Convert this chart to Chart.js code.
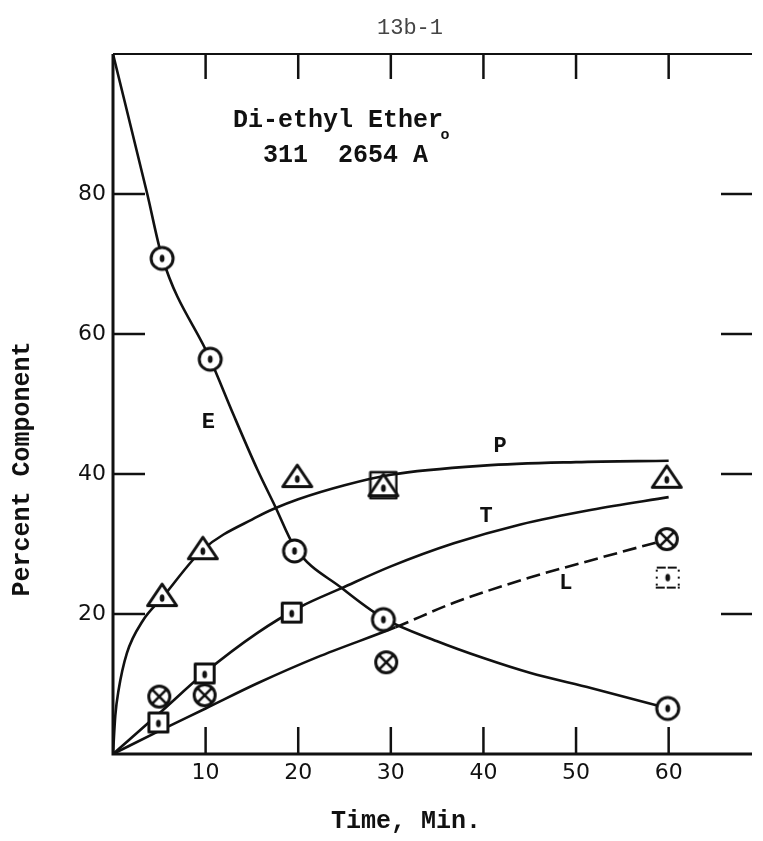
<!DOCTYPE html>
<html>
<head>
<meta charset="utf-8">
<script src="https://cdn.jsdelivr.net/npm/chart.js@4/dist/chart.umd.min.js"></script>
<style>
  html, body { margin: 0; padding: 0; background: #fff; }
  #wrap { position: relative; width: 763px; height: 841px; }
  canvas { display: block; }
</style>
</head>
<body>
<div id="wrap"><canvas id="chart" width="763" height="841"></canvas></div>
<script>
// Plotted observations: time (min) and percent of each component
const eTimes  = [5.3, 10.5, 19.6, 29.2, 59.9];
const eValues = [70.8, 56.4, 29.0, 19.2, 6.5];
const pTimes  = [5.3, 9.7, 19.9, 29.2, 59.8];
const pValues = [22.7, 29.4, 39.7, 38.4, 39.6];
const tTimes  = [4.9, 9.9, 19.3, 29.2, 59.9];
const tValues = [4.5, 11.5, 20.2, 38.4, 25.2];
const lTimes  = [5.0, 9.9, 29.5, 59.8];
const lValues = [8.2, 8.4, 13.1, 30.7];

// Hand-faired curves through the observations
const eCurveT = [0, 3.7, 5.3, 10.5, 13, 15.6, 17.5, 19.6, 24.7, 29.2, 35, 40, 45, 51.7, 60];
const eCurveV = [100, 80, 71, 56.4, 48.5, 40.6, 35.4, 29.6, 23.7, 19.4, 16.1, 13.7, 11.6, 9.4, 6.5];
const pCurveT = [0, 0.25, 0.6, 1.5, 3.2, 5.3, 9.7, 15.6, 17.5, 20, 25, 30, 40, 50, 60];
const pCurveV = [0, 5.5, 9.1, 14.4, 19, 22.3, 29.2, 33.9, 35.1, 36.4, 38.4, 39.9, 41.2, 41.7, 41.9];
const tCurveT = [0, 4.9, 9.9, 15.6, 20.2, 24.7, 30, 36.8, 44, 51.7, 60];
const tCurveV = [0, 5.7, 11.6, 17.3, 21.0, 23.7, 26.8, 30.1, 32.8, 34.9, 36.7];
const lCurveT = [0, 5, 10, 15.6, 22, 30.5, 36.8, 45, 52.8, 60];
const lCurveV = [0, 3.3, 6.5, 10.1, 13.8, 18.1, 21.6, 25.2, 28.1, 30.7];

// Axis ticks
const xTickValues = [10, 20, 30, 40, 50, 60];
const yTickValues = [20, 40, 60, 80];

// Curve letters (placed in data units)
const curveLetters = ['E', 'P', 'T', 'L'];
const letterTimes  = [10.3, 41.8, 40.3, 48.9];
const letterValues = [47.4, 43.9, 33.9, 24.4];

const ink = '#111';
const mono = '"Liberation Mono", "DejaVu Sans Mono", monospace';
const sans = '"DejaVu Sans", "Open Sans", sans-serif';

const pairs = (xs, ys) => xs.map((x, i) => ({ x, y: ys[i] }));

// ---- marker glyphs ----
function glyph(w, h, draw) {
  const c = document.createElement('canvas');
  c.width = w; c.height = h;
  const g = c.getContext('2d');
  g.strokeStyle = ink; g.fillStyle = ink; g.lineJoin = 'round';
  draw(g, w / 2, h / 2);
  return c;
}
function dot(g, cx, cy) {
  g.beginPath(); g.ellipse(cx, cy, 2.4, 3.8, 0, 0, Math.PI * 2);
  g.fillStyle = ink; g.fill();
}
const circleDot = glyph(30, 30, (g, cx, cy) => {
  g.beginPath(); g.arc(cx, cy, 11, 0, Math.PI * 2);
  g.fillStyle = '#fff'; g.fill(); g.lineWidth = 3; g.stroke();
  dot(g, cx, cy);
});
const triangleDot = glyph(34, 28, (g) => {
  g.beginPath(); g.moveTo(17, 3); g.lineTo(31.5, 24.5); g.lineTo(2.5, 24.5); g.closePath();
  g.fillStyle = '#fff'; g.fill(); g.lineWidth = 3; g.stroke();
  dot(g, 17, 17);
});
const squareDot = glyph(24, 24, (g, cx, cy) => {
  g.fillStyle = '#fff'; g.fillRect(2.5, 2.5, 19, 19);
  g.lineWidth = 3; g.strokeRect(2.5, 2.5, 19, 19);
  dot(g, cx, cy + 1);
});
const squareOpen = glyph(30, 30, (g) => {
  g.lineWidth = 2.5; g.strokeRect(2, 2, 26, 26);
});
const squareFaint = glyph(28, 26, (g, cx, cy) => {
  g.lineWidth = 2;
  g.setLineDash([9, 2]);
  g.beginPath(); g.moveTo(3, 3); g.lineTo(25, 3); g.moveTo(2, 23); g.lineTo(26, 23); g.stroke();
  g.setLineDash([2, 5]);
  g.beginPath(); g.moveTo(3, 5); g.lineTo(3, 21); g.moveTo(25, 5); g.lineTo(25, 21); g.stroke();
  dot(g, cx, cy);
});
const circleCross = glyph(28, 28, (g, cx, cy) => {
  g.beginPath(); g.arc(cx, cy, 10.5, 0, Math.PI * 2);
  g.fillStyle = '#fff'; g.fill(); g.lineWidth = 3; g.stroke();
  const r = 7.4; g.lineWidth = 2.6;
  g.beginPath();
  g.moveTo(cx - r, cy - r); g.lineTo(cx + r, cy + r);
  g.moveTo(cx + r, cy - r); g.lineTo(cx - r, cy + r);
  g.stroke();
});

const curve = (xs, ys, extra) => Object.assign({
  type: 'line', data: pairs(xs, ys), borderColor: ink, borderWidth: 2.6,
  pointRadius: 0, cubicInterpolationMode: 'monotone', fill: false, order: 2
}, extra || {});
const marks = (xs, ys, style) => ({
  type: 'scatter', data: pairs(xs, ys), showLine: false, pointStyle: style,
  pointRadius: 10, order: 0
});

// ---- frame, inward ticks and lettering ----
const framePlugin = {
  id: 'frame',
  afterDraw(chart) {
    const { ctx, chartArea: a, scales: { x, y } } = chart;
    const seg = (x1, y1, x2, y2) => { ctx.beginPath(); ctx.moveTo(x1, y1); ctx.lineTo(x2, y2); ctx.stroke(); };
    ctx.save();
    ctx.strokeStyle = ink; ctx.lineCap = 'butt';
    ctx.lineWidth = 3;
    ctx.beginPath(); ctx.moveTo(a.left, a.top); ctx.lineTo(a.left, a.bottom); ctx.lineTo(a.right, a.bottom); ctx.stroke();
    ctx.lineWidth = 2;
    seg(a.left, a.top, a.right, a.top);
    ctx.lineWidth = 2.5;
    xTickValues.forEach(v => {
      const px = x.getPixelForValue(v);
      seg(px, a.bottom, px, a.bottom - 27);
      seg(px, a.top, px, a.top + 25);
    });
    yTickValues.forEach(v => {
      const py = y.getPixelForValue(v);
      seg(a.left, py, a.left + 32, py);
      seg(a.right - 31, py, a.right, py);
    });

    ctx.fillStyle = ink;
    ctx.textBaseline = 'alphabetic';
    ctx.textAlign = 'left';
    ctx.font = 'bold 25px ' + mono;
    ctx.fillText('Di-ethyl Ether', 233, 127);
    ctx.fillText('  311  2654 A', 233, 162);
    ctx.font = 'bold 15px ' + mono;
    ctx.textAlign = 'center'; ctx.textBaseline = 'middle';
    ctx.fillText('o', 445, 135);

    ctx.font = 'bold 22px ' + mono;
    curveLetters.forEach((s, i) => {
      ctx.fillText(s, x.getPixelForValue(letterTimes[i]), y.getPixelForValue(letterValues[i]));
    });

    ctx.font = 'bold 25px ' + mono;
    ctx.fillText('Time, Min.', 406, 822);
    ctx.save();
    ctx.translate(23, 469); ctx.rotate(-Math.PI / 2);
    ctx.fillText('Percent Component', 0, 0);
    ctx.restore();

    ctx.fillStyle = '#444';
    ctx.font = '22px ' + mono;
    ctx.fillText('13b-1', 410, 28);
    ctx.restore();
  }
};

new Chart(document.getElementById('chart'), {
  data: {
    datasets: [
      curve(eCurveT, eCurveV),
      curve(pCurveT, pCurveV),
      curve(tCurveT, tCurveV),
      curve(lCurveT, lCurveV, {
        segment: { borderDash: c => (c.p0.parsed.x >= 30.5 ? [14, 6] : undefined) }
      }),
      marks(eTimes, eValues, circleDot),
      marks(pTimes, pValues, triangleDot),
      Object.assign(marks(tTimes, tValues, squareDot), {
        pointStyle: [squareDot, squareDot, squareDot, squareOpen, squareFaint], order: 1
      }),
      marks(lTimes, lValues, circleCross)
    ]
  },
  options: {
    responsive: false,
    animation: false,
    devicePixelRatio: 1,
    events: [],
    layout: { padding: { top: 54, left: 0, right: 0, bottom: 0 } },
    plugins: { legend: { display: false }, tooltip: { enabled: false } },
    scales: {
      x: {
        type: 'linear', min: 0, max: 69,
        grid: { display: false, drawTicks: false }, border: { display: false },
        afterBuildTicks: s => { s.ticks = xTickValues.map(v => ({ value: v })); },
        afterFit: s => { s.height = 87; },
        ticks: { padding: 6, color: ink, font: { family: sans, size: 22 }, autoSkip: false, maxRotation: 0 }
      },
      y: {
        type: 'linear', min: 0, max: 100,
        grid: { display: false, drawTicks: false }, border: { display: false },
        afterBuildTicks: s => { s.ticks = yTickValues.map(v => ({ value: v })); },
        afterFit: s => { s.width = 113; },
        ticks: { padding: 7, color: ink, font: { family: sans, size: 22 } }
      }
    }
  },
  plugins: [framePlugin]
});
</script>
</body>
</html>
